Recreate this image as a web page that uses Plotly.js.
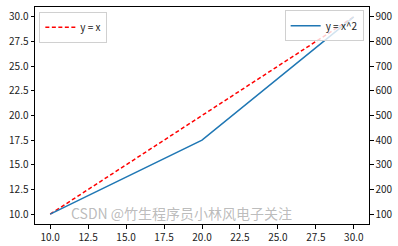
<!DOCTYPE html>
<html><head><meta charset="utf-8">
<script src="https://cdn.plot.ly/plotly-3.0.1.min.js"></script>
<style>html,body{margin:0;padding:0;background:#fff;}#chart{width:398px;height:246px;}</style>
</head><body><div id="chart"></div>
<script>
// Data
const xValues = [10, 20, 30];
const yLinear = [10, 20, 30];      // y = x
const ySquare = [100, 400, 900];   // y = x^2
const nameLinear = 'y = x';
const nameSquare = 'y = x^2';
const leftTicks = [10, 12.5, 15, 17.5, 20, 22.5, 25, 27.5, 30];
const rightTicks = [100, 200, 300, 400, 500, 600, 700, 800, 900];
const xTicks = [10, 12.5, 15, 17.5, 20, 22.5, 25, 27.5, 30];
const watermarkText = 'CSDN @竹生程序员小林风电子关注';

const font = "'Noto Sans CJK SC', 'DejaVu Sans', sans-serif";

const traces = [
  {x: xValues, y: yLinear, name: nameLinear, type: 'scatter', mode: 'lines',
   line: {color: '#ff0000', width: 1.5, dash: '4px,2.5px'}, xaxis: 'x', yaxis: 'y', legend: 'legend'},
  {x: xValues, y: ySquare, name: nameSquare, type: 'scatter', mode: 'lines',
   line: {color: '#1f77b4', width: 1.5}, xaxis: 'x', yaxis: 'y2', legend: 'legend2'}
];

const axisCommon = {
  showgrid: false, zeroline: false, showline: true, linecolor: '#000', linewidth: 1,
  ticks: 'outside', ticklen: 3.5, tickwidth: 1, tickcolor: '#000',
  tickfont: {family: font, size: 10, color: '#222'}
};

const layout = {
  width: 398, height: 246,
  margin: {l: 35, r: 29, t: 7, b: 22, pad: 0},
  paper_bgcolor: '#fff', plot_bgcolor: '#fff',
  xaxis: Object.assign({}, axisCommon, {range: [9, 31], tickvals: xTicks,
    ticktext: xTicks.map(v => v.toFixed(1)), mirror: true}),
  yaxis: Object.assign({}, axisCommon, {range: [9, 31], tickvals: leftTicks,
    ticktext: leftTicks.map(v => v.toFixed(1))}),
  yaxis2: Object.assign({}, axisCommon, {range: [60, 940], tickvals: rightTicks,
    overlaying: 'y', side: 'right'}),
  legend: {x: 0.013, y: 0.978, xanchor: 'left', yanchor: 'top',
    bgcolor: 'rgba(255,255,255,0.8)', bordercolor: '#d0d0d0', borderwidth: 1,
    font: {family: font, size: 10, color: '#222'}, itemwidth: 30, tracegroupgap: 0},
  legend2: {x: 0.984, y: 0.985, xanchor: 'right', yanchor: 'top',
    bgcolor: 'rgba(255,255,255,0.8)', bordercolor: '#d0d0d0', borderwidth: 1,
    font: {family: font, size: 10, color: '#222'}, itemwidth: 30, tracegroupgap: 0},
  annotations: [{
    text: watermarkText, xref: 'paper', yref: 'paper', x: 0.105, y: 0,
    xanchor: 'left', yanchor: 'bottom', showarrow: false, borderpad: 0,
    font: {family: font, size: 14, color: 'rgba(150,150,150,0.65)'}
  }],
  showlegend: true
};

Plotly.newPlot('chart', traces, layout, {staticPlot: true, displayModeBar: false});
</script>
</body></html>
